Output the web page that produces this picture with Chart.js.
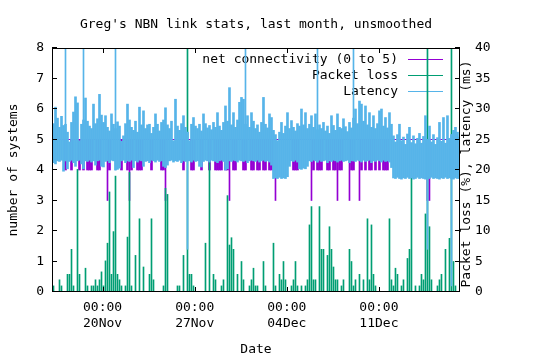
<!DOCTYPE html>
<html>
<head>
<meta charset="utf-8">
<script src="https://cdn.jsdelivr.net/npm/chart.js@4.4.0/dist/chart.umd.min.js"></script>
<style>
  body { margin: 0; background: #fff; }
  canvas { display: block; }
</style>
</head>
<body>
<canvas id="chart-nbn" width="540" height="360"></canvas>
<script>
// time axis in days (day 20 = 20 Nov 00:00, day 34 = 04 Dec 00:00)
const xMin = 16.154;
const xMax = 47.164;
const tickDays = [20, 27, 34, 41];
const tickTimes = ["00:00", "00:00", "00:00", "00:00"];
const tickDates = ["20Nov", "27Nov", "04Dec", "11Dec"];

// one sample every ~3.6 h (min/max per sample)
const sampleStart = 16.268;
const sampleStep = 0.152;

// latency (ms), upper and lower edge of each sample
const latencyHigh = [
  27.6, 30.3, 28.5, 27.0, 28.8, 27.3, 27.5, 26.2, 24.6, 27.8,
  29.5, 32.0, 31.0, 24.8, 27.5, 28.2, 31.8, 28.0, 27.2, 26.8,
  30.8, 27.6, 28.4, 32.4, 29.0, 27.8, 28.9, 27.0, 26.4, 29.2,
  27.5, 26.8, 27.9, 27.2, 24.7, 25.6, 27.6, 30.8, 28.2, 27.0,
  26.5, 28.0, 26.2, 30.3, 27.4, 29.7, 26.8, 27.4, 27.5, 26.0,
  27.0, 29.2, 27.5, 26.4, 27.8, 28.2, 30.2, 27.4, 26.8, 28.0,
  24.8, 31.6, 27.2, 26.5, 27.6, 28.9, 27.0, 26.2, 24.8, 27.5,
  28.6, 27.2, 26.8, 27.5, 26.4, 29.2, 27.6, 26.9, 27.3, 26.6,
  27.8, 27.0, 29.4, 27.2, 26.5, 27.8, 30.5, 28.0, 33.5, 27.4,
  29.4, 27.0, 28.2, 31.1, 31.9, 31.6, 27.5, 28.9, 27.0, 29.4,
  28.0, 26.8, 27.4, 26.2, 27.8, 31.9, 27.5, 26.9, 29.2, 28.6,
  26.5, 25.8, 24.8, 26.2, 27.8, 26.0, 27.2, 29.4, 26.8, 28.1,
  27.0, 26.4, 27.6, 27.2, 30.0, 27.4, 29.4, 26.8, 27.5, 28.9,
  27.0, 29.2, 26.6, 27.4, 26.8, 27.8, 26.4, 27.2, 26.0, 28.9,
  27.3, 26.5, 29.2, 27.0, 26.8, 28.4, 27.1, 26.3, 27.8, 26.9,
  28.5, 30.0, 27.6, 31.3, 30.8, 28.0, 30.5, 27.4, 29.4, 27.0,
  28.9, 26.8, 27.6, 29.7, 30.0, 27.2, 28.6, 26.9, 29.4, 27.5,
  25.6, 24.6, 25.8, 27.5, 24.8, 25.4, 24.2, 25.9, 27.0, 24.5,
  25.6, 24.3, 25.2, 26.0, 24.4, 25.5, 28.9, 25.0, 27.2, 24.6,
  25.8, 24.2, 25.3, 27.8, 24.7, 28.6, 24.4, 28.9, 25.2, 25.8,
  26.5, 27.0, 26.2, 25.4,
];
const latencyLow = [
  21.2, 21.0, 21.5, 21.4, 21.6, 19.8, 21.5, 20.2, 21.4, 21.6,
  21.2, 20.6, 21.5, 21.6, 21.0, 20.2, 21.5, 21.4, 21.6, 21.3,
  21.5, 20.8, 21.5, 21.6, 20.6, 20.5, 21.4, 21.5, 21.2, 21.6,
  21.5, 20.0, 20.1, 20.3, 21.5, 21.6, 21.2, 21.5, 21.4, 21.6,
  20.4, 21.5, 21.3, 21.6, 21.5, 20.6, 21.4, 21.5, 21.2, 21.6,
  21.5, 21.3, 21.6, 21.4, 21.5, 20.6, 20.4, 20.8, 21.5, 21.6,
  21.3, 21.5, 21.4, 21.6, 21.2, 21.5, 21.4, 21.6, 21.5, 21.3,
  21.6, 21.4, 21.5, 20.6, 20.5, 21.4, 21.6, 21.5, 21.3, 21.6,
  21.5, 21.4, 21.2, 21.5, 21.6, 21.4, 20.0, 20.2, 21.5, 21.4,
  21.6, 21.5, 21.3, 21.6, 21.5, 21.4, 21.6, 21.2, 21.5, 21.6,
  21.5, 21.4, 21.6, 21.3, 21.5, 21.6, 21.4, 21.5, 21.3, 20.8,
  18.6, 18.7, 18.6, 18.8, 18.6, 18.7, 18.6, 18.9, 20.6, 21.5,
  21.4, 21.6, 21.3, 20.2, 20.1, 20.3, 20.2, 20.6, 21.5, 21.4,
  21.6, 21.5, 21.3, 21.6, 21.4, 21.5, 21.6, 21.2, 21.5, 21.4,
  21.6, 21.5, 21.3, 21.5, 21.6, 21.4, 21.5, 21.6, 21.2, 21.5,
  21.5, 21.4, 21.6, 21.5, 21.3, 21.6, 21.4, 21.5, 21.6, 21.2,
  21.5, 21.4, 21.6, 21.5, 21.3, 21.6, 21.4, 21.5, 21.3, 20.4,
  18.7, 18.6, 18.8, 18.6, 18.5, 18.7, 18.6, 18.8, 18.6, 18.7,
  18.5, 18.6, 18.8, 18.6, 18.7, 18.6, 18.5, 18.7, 18.6, 18.8,
  18.6, 18.7, 18.6, 18.5, 18.7, 18.6, 18.8, 18.6, 18.7, 18.6,
  18.5, 18.7, 18.6, 18.6,
];
// single samples far outside the band: [sample, latency ms]
const latencySpikes = [
  [6, 55], [15, 55], [31, 55], [67, 7], [96, 55],
  [132, 55], [150, 55], [187, 7], [199, 1],
];

// packet loss (%)
const packetLoss = [
  1.0, 0, 0, 2.0, 1.0, 0, 0, 2.9, 2.9, 7.0,
  1.0, 0, 20.1, 2.9, 0, 0, 3.9, 1.0, 0, 1.0,
  1.0, 2.0, 1.0, 2.0, 3.3, 1.0, 5.1, 8.0, 16.4, 2.9,
  9.9, 19.0, 2.9, 2.0, 1.0, 0, 1.0, 9.0, 19.6, 1.0,
  0, 6.0, 0, 12.0, 0, 4.1, 0, 0, 2.9, 12.0,
  2.0, 0, 0, 0, 0, 1.0, 17.0, 16.0, 0, 0,
  0, 0, 1.0, 1.0, 0, 6.0, 0, 100, 2.9, 2.9,
  1.0, 0, 0, 0, 0, 0, 8.0, 0, 21.5, 0,
  2.9, 2.0, 0, 0, 1.0, 2.0, 0, 15.8, 7.7, 8.9,
  7.0, 0, 2.9, 0, 5.0, 2.0, 0, 0, 1.0, 2.0,
  3.9, 1.0, 1.0, 0, 0, 5.0, 1.0, 0, 0, 0,
  8.0, 1.0, 0, 2.9, 2.0, 5.0, 2.0, 0, 0, 1.0,
  2.0, 5.0, 1.0, 0, 1.0, 0, 1.0, 2.0, 11.0, 14.0,
  2.0, 2.0, 0, 14.0, 7.0, 7.0, 0, 6.0, 10.7, 7.0,
  4.1, 2.0, 2.0, 0, 1.0, 2.0, 0, 0, 7.0, 5.0,
  1.0, 2.0, 0, 2.9, 0, 2.0, 0, 12.0, 2.0, 11.0,
  2.9, 1.0, 0, 0, 0, 0, 0, 0, 12.0, 2.0,
  1.0, 3.9, 2.9, 0, 1.0, 2.0, 0, 5.5, 7.0, 18.7,
  0, 1.0, 0, 1.0, 2.9, 2.0, 12.8, 100, 10.7, 2.0,
  0, 0, 1.0, 2.0, 2.9, 0, 7.0, 0, 8.8, 100,
  5.0, 1.0, 0, 0,
];

// net connectivity (0 to 5), lowest value in each sample
const connectivityFull = 5;
const connectivity = [
  5, 5, 5, 5, 5, 5, 4, 5, 5, 4,
  5, 5, 5, 4, 5, 4, 5, 4, 4, 4,
  5, 5, 4, 4, 5, 5, 5, 3, 4, 5,
  5, 5, 5, 5, 4, 5, 5, 4, 3, 4,
  5, 5, 4, 4, 4, 5, 5, 5, 5, 4,
  5, 5, 5, 5, 4, 4, 3, 5, 5, 5,
  5, 5, 5, 5, 5, 4, 5, 5, 5, 4,
  4, 5, 5, 5, 4, 5, 5, 5, 4, 5,
  5, 4, 4, 4, 4, 5, 4, 4, 3, 5,
  4, 4, 5, 5, 5, 4, 4, 5, 5, 4,
  4, 5, 4, 4, 5, 4, 4, 5, 4, 4,
  5, 3, 5, 5, 5, 5, 5, 5, 5, 5,
  4, 4, 4, 5, 5, 5, 5, 5, 5, 3,
  4, 5, 4, 4, 4, 5, 5, 4, 4, 5,
  4, 4, 3, 4, 4, 5, 5, 5, 3, 4,
  4, 5, 5, 3, 4, 5, 4, 5, 4, 4,
  5, 4, 5, 4, 5, 4, 4, 4, 5, 5,
  5, 5, 5, 5, 5, 5, 5, 5, 5, 5,
  5, 5, 5, 5, 5, 5, 5, 3, 3, 5,
  5, 5, 5, 5, 5, 5, 5, 5, 5, 5,
  5, 5, 5, 5,
];

const purple = "#9400d3";
const green = "#009e73";
const blue = "#56b4e9";

const legendItems = [
  { text: "net connectivity (0 to 5)", color: purple },
  { text: "Packet loss", color: green },
  { text: "Latency", color: blue },
];
const rightAxisTitle = "Packet loss (%), latency (ms)";

const sampleDays = latencyHigh.map((_, i) => sampleStart + i * sampleStep);

const latencyBand = latencyHigh.map((h, i) => ({ x: sampleDays[i], y: [latencyLow[i], h] }));
const latencySpikeBars = latencySpikes.map(([i, v]) => ({
  x: sampleDays[i],
  y: v > latencyHigh[i] ? [latencyLow[i], v] : [v, latencyHigh[i]],
}));
const lossBars = packetLoss
  .map((v, i) => ({ x: sampleDays[i], y: v }))
  .filter((p) => p.y > 0);
const connectivityPoints = connectivity.map((v, i) => ({ x: sampleDays[i], y: [v, connectivityFull] }));
const smallDips = connectivityPoints.filter((p) => p.y[0] === connectivityFull - 1);
const deepDips = connectivityPoints.filter((p) => p.y[0] < connectivityFull - 1);

Chart.defaults.font.family = '"DejaVu Sans Mono", monospace';
Chart.defaults.font.size = 13;
Chart.defaults.color = "#000";

// gnuplot style: key inside the plot, inward tics, frame, y2 label
const gnuplotLook = {
  id: "gnuplotLook",
  beforeDatasetsDraw(chart) {
    const { ctx } = chart;
    ctx.save();
    ctx.font = '13px "DejaVu Sans Mono"';
    ctx.textAlign = "right";
    ctx.textBaseline = "middle";
    ctx.fillStyle = "#000";
    ctx.lineWidth = 1;
    legendItems.forEach((item, k) => {
      const y = 59.5 + k * 16;
      ctx.fillText(item.text, 398, y);
      ctx.strokeStyle = item.color;
      ctx.beginPath();
      ctx.moveTo(408, y);
      ctx.lineTo(443, y);
      ctx.stroke();
    });
    ctx.restore();
  },
  afterDatasetsDraw(chart) {
    const { ctx, chartArea: a, scales } = chart;
    const tl = 5;
    ctx.save();
    ctx.strokeStyle = "#000";
    ctx.lineWidth = 1;
    ctx.strokeRect(a.left + 0.5, a.top + 0.5, a.right - a.left - 1, a.bottom - a.top - 1);
    ctx.beginPath();
    scales.y.ticks.forEach((t) => {
      const py = Math.round(scales.y.getPixelForValue(t.value)) - 0.5;
      ctx.moveTo(a.left, py);
      ctx.lineTo(a.left + tl, py);
    });
    scales.y2.ticks.forEach((t) => {
      const py = Math.round(scales.y2.getPixelForValue(t.value)) - 0.5;
      ctx.moveTo(a.right, py);
      ctx.lineTo(a.right - tl, py);
    });
    scales.x.ticks.forEach((t) => {
      const px = Math.round(scales.x.getPixelForValue(t.value)) + 0.5;
      ctx.moveTo(px, a.bottom);
      ctx.lineTo(px, a.bottom - tl);
      ctx.moveTo(px, a.top);
      ctx.lineTo(px, a.top + tl);
    });
    ctx.stroke();

    ctx.translate(467, 174);
    ctx.rotate(-Math.PI / 2);
    ctx.font = '13px "DejaVu Sans Mono"';
    ctx.textAlign = "center";
    ctx.textBaseline = "middle";
    ctx.fillStyle = "#000";
    ctx.fillText(rightAxisTitle, 0, 0);
    ctx.restore();
  },
};

const nbnChart = new Chart(document.querySelector("#chart-nbn"), {
  type: "bar",
  data: {
    datasets: [
      {
        label: "Latency spikes",
        data: latencySpikeBars,
        yAxisID: "y2",
        backgroundColor: blue,
        barThickness: 1,
        grouped: false,
      },
      {
        label: "Latency",
        data: latencyBand,
        yAxisID: "y2",
        backgroundColor: blue,
        barThickness: 2,
        grouped: false,
      },
      {
        label: "Packet loss",
        data: lossBars,
        yAxisID: "y2",
        backgroundColor: green,
        barThickness: 1,
        grouped: false,
      },
      {
        label: "net connectivity, one system down",
        data: smallDips,
        yAxisID: "y",
        backgroundColor: purple,
        barThickness: 2,
        grouped: false,
      },
      {
        label: "net connectivity, two systems down",
        data: deepDips,
        yAxisID: "y",
        backgroundColor: purple,
        barThickness: 1,
        grouped: false,
      },
      {
        type: "line",
        label: "net connectivity (0 to 5)",
        data: [
          { x: xMin, y: connectivityFull },
          { x: xMax, y: connectivityFull },
        ],
        yAxisID: "y",
        borderColor: purple,
        borderWidth: 1,
        pointRadius: 0,
      },
    ],
  },
  options: {
    responsive: false,
    animation: false,
    devicePixelRatio: 1,
    events: [],
    layout: { padding: 0 },
    plugins: {
      legend: { display: false },
      tooltip: { enabled: false },
      title: {
        display: true,
        fullSize: false,
        text: "Greg's NBN link stats, last month, unsmoothed",
        color: "#000",
        font: { size: 13, weight: "normal", lineHeight: 1.2 },
        padding: { top: 17.2, bottom: 15.2 },
      },
    },
    scales: {
      x: {
        type: "linear",
        min: xMin,
        max: xMax,
        offset: false,
        grid: { display: false, drawTicks: false },
        border: { display: false },
        afterBuildTicks: (scale) => {
          scale.ticks = tickDays.map((v) => ({ value: v }));
        },
        ticks: {
          maxRotation: 0,
          padding: 8,
          font: { size: 13, lineHeight: "16px" },
          callback: (value) => {
            const k = tickDays.indexOf(value);
            return k < 0 ? "" : [tickTimes[k], tickDates[k]];
          },
        },
        title: {
          display: true,
          text: "Date",
          font: { size: 13, lineHeight: 1.2 },
          padding: { top: 0, bottom: 3 },
        },
        afterFit: (scale) => {
          scale.height = 68;
        },
      },
      y: {
        position: "left",
        min: 0,
        max: 8,
        grid: { display: false, drawTicks: false },
        border: { display: false },
        ticks: { stepSize: 1, padding: 8 },
        title: {
          display: true,
          text: "number of systems",
          font: { size: 13, lineHeight: 1.2 },
          padding: { top: 6, bottom: 0 },
        },
        afterFit: (scale) => {
          scale.width = 52;
        },
      },
      y2: {
        position: "right",
        min: 0,
        max: 40,
        grid: { display: false, drawTicks: false },
        border: { display: false },
        ticks: { stepSize: 5, padding: 15 },
        afterFit: (scale) => {
          scale.width = 80;
        },
      },
    },
  },
  plugins: [gnuplotLook],
});
</script>
</body>
</html>
